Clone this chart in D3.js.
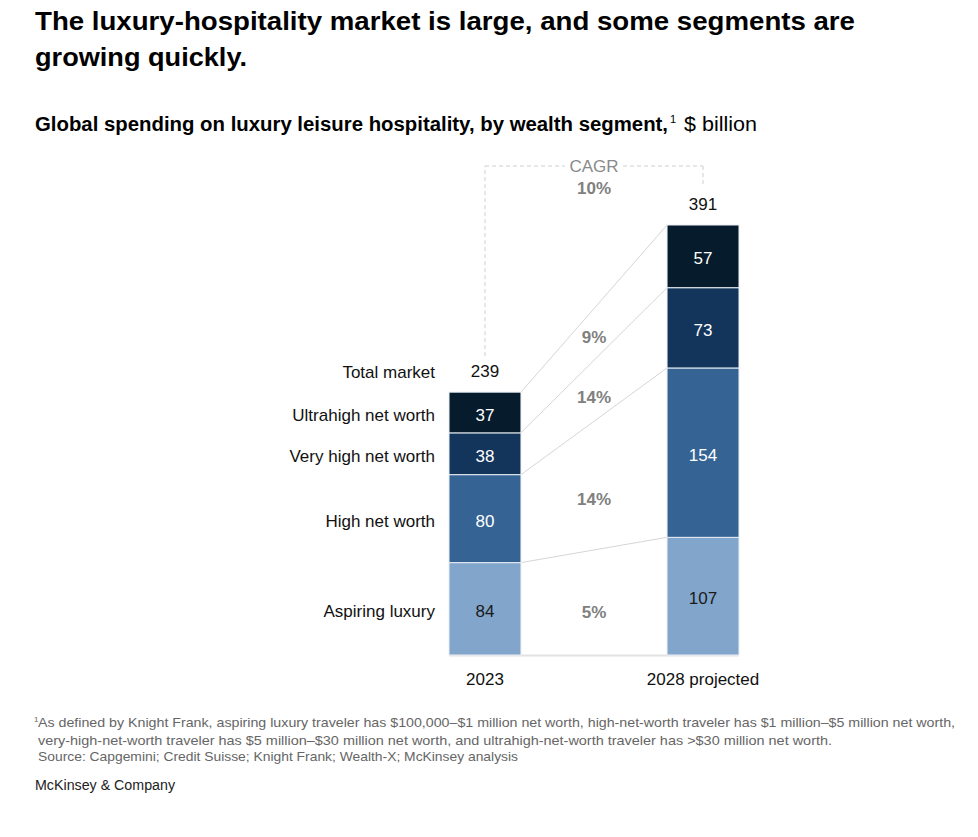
<!DOCTYPE html>
<html>
<head>
<meta charset="utf-8">
<script src="https://cdn.jsdelivr.net/npm/d3@7"></script>
<style>
  html, body { margin: 0; padding: 0; background: #fff; }
  svg { display: block; font-family: "Liberation Sans", Arial, Helvetica, sans-serif; }
</style>
</head>
<body>
<svg id="chart" width="978" height="837"></svg>
<script>
// ---------- DATA ----------
const years = ["2023", "2028 projected"];
const segments = ["Aspiring luxury", "High net worth", "Very high net worth", "Ultrahigh net worth"];
const values2023 = [84, 80, 38, 37];
const values2028 = [107, 154, 73, 57];
const totals = [239, 391];
const segmentCagr = ["5%", "14%", "14%", "9%"];
const totalCagr = "10%";
const totalLabel = "Total market";

const titleLines = ["The luxury-hospitality market is large, and some segments are", "growing quickly."];
const subtitleBold = "Global spending on luxury leisure hospitality, by wealth segment,";
const subtitleUnit = "$ billion";
const footnotes = [
  "As defined by Knight Frank, aspiring luxury traveler has $100,000–$1 million net worth, high-net-worth traveler has $1 million–$5 million net worth,",
  "very-high-net-worth traveler has $5 million–$30 million net worth, and ultrahigh-net-worth traveler has >$30 million net worth.",
  "Source: Capgemini; Credit Suisse; Knight Frank; Wealth-X; McKinsey analysis"
];
const brand = "McKinsey & Company";

// ---------- STYLE ----------
const colors = ["#82A6CB", "#356494", "#13345B", "#061C2D"];
const textColors = ["#1a1a1a", "#ffffff", "#ffffff", "#ffffff"];
const cagrNudge = [10, 13, 6, 3];

const svg = d3.select("#chart");

function fit(sel, w) {
  sel.attr("textLength", w).attr("lengthAdjust", "spacingAndGlyphs");
  return sel;
}

// Title
svg.append("text").attr("x", 35).attr("y", 30).attr("font-size", 26).attr("font-weight", "bold").attr("fill", "#000")
  .text(titleLines[0]).call(fit, 820);
svg.append("text").attr("x", 35).attr("y", 66).attr("font-size", 26).attr("font-weight", "bold").attr("fill", "#000")
  .text(titleLines[1]).call(fit, 212);

// Subtitle
svg.append("text").attr("x", 35).attr("y", 131).attr("font-size", 20).attr("font-weight", "bold").attr("fill", "#000")
  .text(subtitleBold).call(fit, 633);
svg.append("text").attr("x", 670).attr("y", 123).attr("font-size", 11).attr("fill", "#000").text("1");
svg.append("text").attr("x", 684).attr("y", 131).attr("font-size", 20).attr("fill", "#000")
  .text(subtitleUnit).call(fit, 73);

// ---------- SCALES ----------
const y = d3.scaleLinear().domain([0, d3.max(totals)]).range([655, 225]);
const x = d3.scaleBand().domain(years).range([340, 848]).paddingInner(0.67).paddingOuter(0.5);
const bw = x.bandwidth();

function stackOf(vals) {
  let acc = 0;
  return vals.map((v, i) => { const s = { i, v, y0: acc, y1: acc + v }; acc += v; return s; });
}
const stacks = [stackOf(values2023), stackOf(values2028)];

const chart = svg.append("g");

// connector lines
const x0r = x(years[0]) + bw, x1l = x(years[1]);
chart.selectAll(".conn").data(segments.map((s, i) => i)).join("line")
  .attr("x1", x0r).attr("y1", i => y(stacks[0][i].y1))
  .attr("x2", x1l).attr("y2", i => y(stacks[1][i].y1))
  .attr("stroke", "#d6d6d6").attr("stroke-width", 1);

// baseline
chart.append("line").attr("x1", x(years[0])).attr("x2", x(years[1]) + bw)
  .attr("y1", y(0) + 0.5).attr("y2", y(0) + 0.5).attr("stroke", "#e2e2e2").attr("stroke-width", 2);

// bars
years.forEach((yr, k) => {
  const g = chart.append("g");
  g.selectAll("rect").data(stacks[k]).join("rect")
    .attr("x", x(yr)).attr("width", bw)
    .attr("y", d => y(d.y1)).attr("height", d => y(d.y0) - y(d.y1))
    .attr("fill", d => colors[d.i]).attr("stroke", "#e9eef4").attr("stroke-width", 1);
  g.selectAll("text").data(stacks[k]).join("text")
    .attr("x", x(yr) + bw / 2).attr("y", d => (y(d.y0) + y(d.y1)) / 2 + 8)
    .attr("text-anchor", "middle").attr("font-size", 17)
    .attr("fill", d => textColors[d.i]).text(d => d.v);
  g.append("text").attr("x", x(yr) + bw / 2).attr("y", y(totals[k]) - 15)
    .attr("text-anchor", "middle").attr("font-size", 17).attr("fill", "#111").text(totals[k]);
  g.append("text").attr("x", x(yr) + bw / 2).attr("y", y(0) + 30)
    .attr("text-anchor", "middle").attr("font-size", 17).attr("fill", "#111").text(yr);
});

// row labels
const labX = x(years[0]) - 14;
chart.selectAll(".rowlab").data(stacks[0]).join("text")
  .attr("x", labX).attr("y", d => (y(d.y0) + y(d.y1)) / 2 + 8)
  .attr("text-anchor", "end").attr("font-size", 17).attr("fill", "#111").text(d => segments[d.i]);
chart.append("text").attr("x", labX).attr("y", y(totals[0]) - 14)
  .attr("text-anchor", "end").attr("font-size", 17).attr("fill", "#111").text(totalLabel);

// CAGR column
const cx = (x0r + x1l) / 2;
chart.selectAll(".cagr").data(segmentCagr).join("text")
  .attr("x", cx)
  .attr("y", (d, i) => ((y(stacks[0][i].y0) + y(stacks[0][i].y1)) / 2 + (y(stacks[1][i].y0) + y(stacks[1][i].y1)) / 2) / 2 + 6 + cagrNudge[i])
  .attr("text-anchor", "middle").attr("font-size", 17).attr("font-weight", "bold").attr("fill", "#808080").text(d => d);

// CAGR bracket
const bx0 = x(years[0]) + bw / 2, bx1 = x(years[1]) + bw / 2, by = 166;
const dash = "4,3";
const bstroke = "#cfcfcf";
chart.append("line").attr("x1", bx0).attr("x2", bx0).attr("y1", y(totals[0]) - 36).attr("y2", by)
  .attr("stroke", bstroke).attr("stroke-dasharray", dash);
chart.append("line").attr("x1", bx1).attr("x2", bx1).attr("y1", by).attr("y2", y(totals[1]) - 41)
  .attr("stroke", bstroke).attr("stroke-dasharray", dash);
chart.append("line").attr("x1", bx0).attr("x2", cx - 29).attr("y1", by).attr("y2", by)
  .attr("stroke", bstroke).attr("stroke-dasharray", dash);
chart.append("line").attr("x1", cx + 29).attr("x2", bx1).attr("y1", by).attr("y2", by)
  .attr("stroke", bstroke).attr("stroke-dasharray", dash);
chart.append("text").attr("x", cx).attr("y", by + 6).attr("text-anchor", "middle")
  .attr("font-size", 17).attr("fill", "#8a8a8a").text("CAGR");
chart.append("text").attr("x", cx).attr("y", by + 28).attr("text-anchor", "middle")
  .attr("font-size", 17).attr("font-weight", "bold").attr("fill", "#808080").text(totalCagr);

// footnotes
svg.append("text").attr("x", 34).attr("y", 722).attr("font-size", 8).attr("fill", "#666").text("1");
const fnW = [917, 794, 480];
const fnY = [727, 745, 761];
footnotes.forEach((t, i) => {
  svg.append("text").attr("x", 38).attr("y", fnY[i]).attr("font-size", 13).attr("fill", "#666")
    .text(t).call(fit, fnW[i]);
});

svg.append("text").attr("x", 35).attr("y", 790).attr("font-size", 14).attr("fill", "#222")
  .text(brand).call(fit, 140);
</script>
</body>
</html>
